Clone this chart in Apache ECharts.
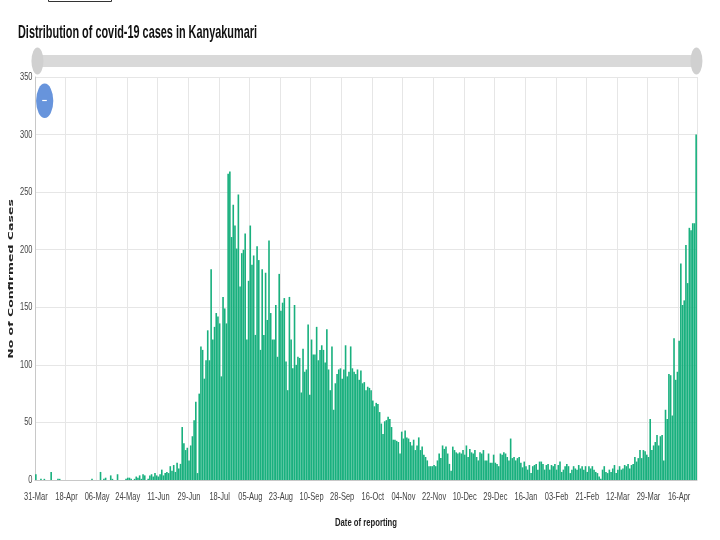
<!DOCTYPE html>
<html><head><meta charset="utf-8">
<script src="https://cdn.jsdelivr.net/npm/echarts@6/dist/echarts.min.js"></script>
<style>html,body{margin:0;padding:0;background:#fff}#c{width:720px;height:540px}</style>
</head><body><div id="c"></div>
<script>
const chartTitle = 'Distribution of covid-19 cases in Kanyakumari';
const yAxisTitle = 'No of Confirmed Cases';
const xAxisTitle = 'Date of reporting';
const firstDate = '2020-03-31';
const lastDate = '2021-04-26';
const missingDates = ['2020-07-05', '2020-10-25', '2020-12-20', '2021-03-01'];
const repeatedDates = ['2021-03-20'];
const monthNames = ['Jan','Feb','Mar','Apr','May','Jun','Jul','Aug','Sep','Oct','Nov','Dec'];
const yTicks = [0, 50, 100, 150, 200, 250, 300, 350];
const labelEvery = 18;
const cases = [
5,0,0,1,0,1,0,0,0,7,0,0,0,1,1,0,0,0,0,0,
0,0,0,0,0,0,0,0,0,0,0,0,0,1,0,0,0,0,7,0,
1,2,0,0,4,1,0,0,5,0,0,0,0,1,2,2,1,0,1,3,
2,4,1,5,4,0,1,4,5,3,6,4,3,5,9,4,6,7,6,12,
8,13,7,15,10,14,46,32,26,28,17,30,38,52,68,6,75,116,113,88,
104,130,104,183,122,133,145,142,136,90,159,149,136,266,268,211,239,221,201,248,
168,197,200,214,122,173,221,187,195,126,203,191,113,183,126,180,139,208,145,122,
122,152,107,179,147,154,158,103,78,159,122,97,152,100,107,106,76,114,94,96,
135,74,122,109,109,133,104,113,117,113,102,131,96,78,116,61,84,92,96,97,
88,96,117,90,94,116,97,94,92,96,87,95,84,85,78,81,80,78,69,64,
67,66,59,49,40,51,52,55,53,46,35,35,34,33,23,42,36,43,37,36,
33,30,35,26,30,37,26,29,22,20,17,12,12,12,13,12,17,23,19,30,
27,29,23,14,8,29,26,24,23,24,23,26,22,30,20,27,24,23,26,20,
17,24,23,26,17,17,23,15,15,22,15,14,12,23,22,24,23,20,17,36,
19,20,17,19,20,15,11,16,12,9,13,6,12,13,14,9,16,16,14,9,
13,14,9,13,12,14,9,13,16,7,9,12,14,12,6,9,12,10,9,13,
10,12,9,12,7,12,10,12,9,7,6,3,1,9,12,7,6,9,7,10,
13,6,9,12,9,10,13,12,14,10,13,14,20,16,19,26,19,26,25,22,
20,53,26,30,33,39,30,38,39,17,61,53,92,91,56,123,87,94,121,188,
152,156,204,171,219,217,223,223,300
];

function buildCategories() {
  const out = [];
  let t = Date.parse(firstDate + 'T00:00:00Z');
  const end = Date.parse(lastDate + 'T00:00:00Z');
  while (t <= end) {
    const d = new Date(t);
    const iso = d.toISOString().slice(0, 10);
    if (!missingDates.includes(iso)) {
      const lbl = String(d.getUTCDate()).padStart(2, '0') + '-' + monthNames[d.getUTCMonth()];
      out.push(lbl);
      if (repeatedDates.includes(iso)) out.push(lbl);
    }
    t += 86400000;
  }
  return out;
}
const categories = buildCategories();

const sans = "'Liberation Sans', Arial, sans-serif";
const titleFont = "bold 19px " + sans;
const tickFont = "11px " + sans;
const xNameFont = "bold 11px " + sans;
const yNameFont = "bold 12.5px 'DejaVu Sans', sans-serif";
function measure(text, font) {
  const cv = document.createElement('canvas').getContext('2d');
  cv.font = font;
  return cv.measureText(text).width;
}
const titleScale = 239 / measure(chartTitle, titleFont);
const xNameScale = 62 / measure(xAxisTitle, xNameFont);
const tickScale = 0.68;

const chart = echarts.init(document.getElementById('c'), null, {renderer: 'canvas'});
const staticGraphics = [
  {type: 'rect', shape: {x: 48.5, y: -20, width: 63, height: 21.5},
   style: {fill: 'none', stroke: '#333', lineWidth: 1}},
  {type: 'text', x: 18, y: 23, scaleX: titleScale,
   style: {text: chartTitle, font: titleFont, fill: '#111', textAlign: 'left', textVerticalAlign: 'top'}},
  {type: 'circle', x: 44.7, y: 100.8, scaleY: 2.0, z: 100,
   shape: {cx: 0, cy: 0, r: 8.6}, style: {fill: '#6794dc'}},
  {type: 'line', z: 101, shape: {x1: 42.2, y1: 100.5, x2: 46.8, y2: 100.5},
   style: {stroke: '#fff', lineWidth: 1.2}},
  {type: 'text', x: 366, y: 523, scaleX: xNameScale,
   style: {text: xAxisTitle, font: xNameFont, fill: '#222', textAlign: 'center', textVerticalAlign: 'middle'}},
  {type: 'text', x: 11, y: 279, rotation: Math.PI / 2, scaleY: 0.62,
   style: {text: yAxisTitle, font: yNameFont, fill: '#222', textAlign: 'center', textVerticalAlign: 'middle'}}
];

chart.setOption({
  animation: false,
  backgroundColor: '#fff',
  grid: {left: 35, right: 23, top: 77, bottom: 60, containLabel: false, outerBoundsMode: 'none'},
  xAxis: {
    type: 'category', data: categories, boundaryGap: true,
    axisLine: {show: true, lineStyle: {color: '#c8c8c8'}},
    axisTick: {show: false},
    axisLabel: {show: false, interval: labelEvery - 1},
    splitLine: {show: true, interval: labelEvery - 1, lineStyle: {color: '#e6e6e6'}}
  },
  yAxis: {
    type: 'value', min: yTicks[0], max: yTicks[yTicks.length - 1], interval: yTicks[1] - yTicks[0],
    axisLine: {show: true, lineStyle: {color: '#c8c8c8'}},
    axisTick: {show: false},
    axisLabel: {show: false},
    splitLine: {show: true, lineStyle: {color: '#e6e6e6'}}
  },
  dataZoom: [{
    type: 'slider', xAxisIndex: 0, start: 0, end: 100,
    left: 36, right: 23, top: 55, height: 12,
    showDetail: false, showDataShadow: false, brushSelect: false, moveHandleSize: 0,
    borderColor: 'transparent', borderRadius: 6,
    backgroundColor: '#d9d9d9', fillerColor: '#d9d9d9',
    handleIcon: 'path://M6,0A6,13.5,0,1,1,6,27A6,13.5,0,1,1,6,0Z',
    handleSize: '225%',
    handleStyle: {color: '#d0d0d0', borderColor: '#d0d0d0', borderWidth: 0},
    emphasis: {handleStyle: {color: '#d0d0d0', borderColor: '#d0d0d0'}},
    dataBackground: {lineStyle: {opacity: 0}, areaStyle: {opacity: 0}},
    selectedDataBackground: {lineStyle: {opacity: 0}, areaStyle: {opacity: 0}}
  }],
  graphic: staticGraphics,
  series: [{
    type: 'bar', data: cases, barCategoryGap: '5%',
    itemStyle: {color: '#19b07e'}
  }]
});

// Tick labels drawn at positions given by the chart's own axes, horizontally condensed
const tickGraphics = [];
for (let i = 0; i < categories.length; i += labelEvery) {
  const px = chart.convertToPixel({xAxisIndex: 0}, i);
  tickGraphics.push({type: 'text', x: px, y: 497, scaleX: tickScale,
    style: {text: categories[i], font: tickFont, fill: '#444', textAlign: 'center', textVerticalAlign: 'middle'}});
}
yTicks.forEach(function (v) {
  const py = chart.convertToPixel({yAxisIndex: 0}, v);
  tickGraphics.push({type: 'text', x: 32.5, y: py, scaleX: tickScale,
    style: {text: String(v), font: tickFont, fill: '#444', textAlign: 'right', textVerticalAlign: 'middle'}});
});
chart.setOption({graphic: staticGraphics.concat(tickGraphics)});
</script>
</body></html>
